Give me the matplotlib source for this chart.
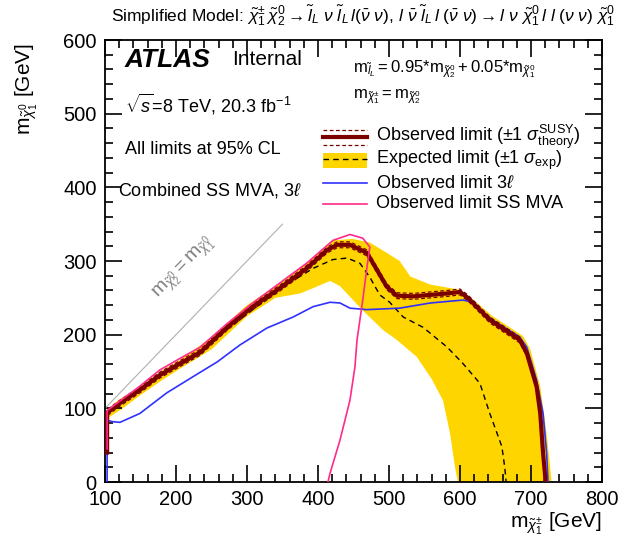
import matplotlib
matplotlib.use('Agg')
from matplotlib import pyplot as plt
from matplotlib.patches import Rectangle
from matplotlib.ticker import MultipleLocator

plt.rcParams['font.family'] = ['Liberation Sans', 'DejaVu Sans']
plt.rcParams['mathtext.fontset'] = 'custom'
plt.rcParams['mathtext.rm'] = 'Liberation Sans'
plt.rcParams['mathtext.it'] = 'Liberation Sans:italic'
plt.rcParams['mathtext.bf'] = 'Liberation Sans:bold'

# exclusion contours in (m_chargino, m_lsp) [GeV]
obs_x = [103, 103, 121, 149, 177, 206, 234, 272, 308, 346, 384, 413, 427, 445,
         469, 483, 497, 511, 534, 582, 600, 611, 642, 684, 694, 708, 713, 717,
         720, 720]
obs_y = [40, 94, 107, 125, 145, 161, 176, 210, 238, 263, 290, 315, 322, 322,
         311, 288, 265, 253, 252, 256, 258, 250, 220, 193, 175, 129, 93, 39,
         7, 0]
obs_up_y = [40, 98, 111, 129, 149, 165, 180, 214, 242, 267, 294, 319, 326, 326,
            315, 292, 269, 257, 256, 260, 262, 254, 224, 197, 179, 133, 97, 43,
            11, 2]
obs_dn_y = [40, 90, 103, 121, 141, 157, 172, 206, 234, 259, 286, 311, 318, 318,
            307, 284, 261, 249, 248, 252, 254, 246, 216, 189, 171, 125, 89, 35,
            3, 0]

exp_x = [103, 103, 121, 149, 177, 206, 234, 272, 308, 356, 393, 421, 441, 459,
         473, 487, 501, 520, 548, 582, 604, 628, 642, 659, 663, 665]
exp_y = [40, 92, 105, 123, 143, 159, 174, 207, 234, 268, 290, 302, 304, 297,
         278, 254, 244, 224, 210, 183, 161, 134, 93, 48, 20, 0]

band_up_x = [101, 101, 120, 150, 178, 206, 248, 300, 356, 400, 421, 449, 473,
             497, 515, 530, 558, 600, 618, 646, 689, 699, 713, 722, 727, 729]
band_up_y = [40, 97, 112, 130, 150, 166, 195, 240, 276, 310, 328, 330, 325,
             311, 300, 279, 268, 261, 248, 225, 198, 180, 130, 66, 20, 0]
band_dn_x = [105, 106, 125, 150, 180, 206, 250, 300, 340, 375, 400, 417, 431,
             463, 492, 511, 539, 560, 576, 586, 593, 597]
band_dn_y = [40, 88, 100, 118, 138, 154, 180, 225, 250, 256, 266, 273, 266,
             233, 206, 193, 170, 140, 111, 66, 20, 0]

lep3_x = [103, 103, 110, 121, 149, 187, 224, 258, 290, 328, 365, 393, 417, 431,
          445, 469, 515, 558, 604, 614, 646, 684, 694, 708, 717, 722, 724]
lep3_y = [0, 84, 82, 81, 93, 121, 143, 163, 186, 209, 224, 238, 244, 243,
          236, 234, 236, 243, 247, 245, 220, 197, 183, 138, 93, 39, 0]

ss_x = [103, 103, 121, 149, 177, 206, 234, 272, 308, 346, 384, 421, 445, 463,
        473, 469, 463, 459, 455, 452, 445, 431, 417, 414]
ss_y = [45, 97, 110, 130, 152, 168, 183, 215, 243, 270, 297, 328, 336, 331,
        319, 292, 247, 220, 193, 156, 111, 57, 12, 0]

diag_x = [100, 350]
diag_y = [100, 350]

fig = plt.figure(figsize=(6.29, 5.48), dpi=100)
ax = fig.add_axes([0.1669, 0.1204, 0.7902, 0.8066])

# expected +-1 sigma band
ax.fill(band_up_x + band_dn_x[::-1], band_up_y + band_dn_y[::-1],
        color='#ffd500', lw=0, zorder=1)
ax.plot(exp_x, exp_y, color='black', lw=1.0, ls=(0, (4, 3)), zorder=3)
ax.plot(diag_x, diag_y, color='#b0b0b0', lw=0.8, zorder=2)
ax.text(212, 290, r'$\mathrm{m}_{\tilde{\chi}^{0}_{2}} = \mathrm{m}_{\tilde{\chi}^{0}_{1}}$',
        color='#808080', fontsize=14, rotation=46, ha='center', va='center')

ax.plot(lep3_x, lep3_y, color='#3030ff', lw=1.2, zorder=4)
ax.plot(obs_x, obs_y, color='#7a0000', lw=3.0, zorder=5)
ax.plot(obs_x, obs_up_y, color='#7a0000', lw=0.9, ls=(0, (3, 2)), zorder=5)
ax.plot(obs_x, obs_dn_y, color='#7a0000', lw=0.9, ls=(0, (3, 2)), zorder=5)
ax.plot(ss_x, ss_y, color='#ff2a8a', lw=1.2, zorder=6)

ax.set_xlim(100, 800)
ax.set_ylim(0, 600)
ax.xaxis.set_major_locator(MultipleLocator(100))
ax.xaxis.set_minor_locator(MultipleLocator(20))
ax.yaxis.set_major_locator(MultipleLocator(100))
ax.yaxis.set_minor_locator(MultipleLocator(20))
ax.tick_params(which='both', direction='in', top=True, right=True,
               labelsize=14.5, width=1.2, pad=6)
ax.tick_params(which='major', length=12)
ax.tick_params(which='minor', length=6)
for sp in ax.spines.values():
    sp.set_linewidth(1.3)

# labels and annotations
fig.text(0.957, 0.044, r'$\mathrm{m}_{\tilde{\chi}^{\pm}_{1}}$ [GeV]', fontsize=15,
         ha='right', va='center')
fig.text(0.043, 0.922, r'$\mathrm{m}_{\tilde{\chi}^{0}_{1}}$ [GeV]', fontsize=15,
         rotation=90, ha='center', va='top')
fig.text(0.578, 0.972,
         r'Simplified Model: $\tilde{\chi}^{\pm}_{1}\,\tilde{\chi}^{0}_{2} \rightarrow '
         r'\tilde{l}_{L}\ \nu\ \tilde{l}_{L}\,l(\bar{\nu}\ \nu),\,l\ \bar{\nu}\ \tilde{l}_{L}\,l\ '
         r'(\bar{\nu}\ \nu) \rightarrow l\ \nu\ \tilde{\chi}^{0}_{1}\,l\ l\ (\nu\ \nu)\ \tilde{\chi}^{0}_{1}$',
         fontsize=12.5, ha='center', va='center')

ax.text(0.04, 0.955, 'ATLAS', transform=ax.transAxes, fontsize=19,
        fontweight='bold', fontstyle='italic', va='center')
ax.text(0.255, 0.955, 'Internal', transform=ax.transAxes, fontsize=15, va='center')
ax.text(0.04, 0.855, r'$\sqrt{s}$=8 TeV, 20.3 fb$^{-1}$', transform=ax.transAxes,
        fontsize=13, va='center')
ax.text(0.04, 0.752, 'All limits at 95% CL', transform=ax.transAxes,
        fontsize=13, va='center')
ax.text(0.026, 0.66, r'Combined SS MVA, 3$\ell$', transform=ax.transAxes,
        fontsize=13, va='center')
ax.text(0.50, 0.935,
        r'$\mathrm{m}_{\tilde{l}_{L}} = 0.95{*}\mathrm{m}_{\tilde{\chi}^{0}_{2}}'
        r' + 0.05{*}\mathrm{m}_{\tilde{\chi}^{0}_{1}}$',
        transform=ax.transAxes, fontsize=12, va='center')
ax.text(0.50, 0.873, r'$\mathrm{m}_{\tilde{\chi}^{\pm}_{1}} = \mathrm{m}_{\tilde{\chi}^{0}_{2}}$',
        transform=ax.transAxes, fontsize=12, va='center')

# legend
hx = [0.439, 0.527]
tx = 0.545
kw = dict(transform=ax.transAxes, clip_on=False)
ax.plot(hx, [0.796, 0.796], color='#7a0000', lw=0.9, ls=(0, (3, 2)), **kw)
ax.plot(hx, [0.781, 0.781], color='#7a0000', lw=3.0, **kw)
ax.plot(hx, [0.762, 0.762], color='#7a0000', lw=0.9, ls=(0, (3, 2)), **kw)
ax.add_patch(Rectangle((hx[0], 0.71), hx[1] - hx[0], 0.034, color='#ffd500',
                       lw=0, transform=ax.transAxes))
ax.plot(hx, [0.730, 0.730], color='black', lw=1.0, ls=(0, (4, 3)), **kw)
ax.plot(hx, [0.676, 0.676], color='#3030ff', lw=1.2, **kw)
ax.plot(hx, [0.629, 0.629], color='#ff2a8a', lw=1.2, **kw)
ax.text(tx, 0.781, r'Observed limit ($\pm$1 $\sigma^{\mathrm{SUSY}}_{\mathrm{theory}}$)',
        transform=ax.transAxes, fontsize=13, va='center')
ax.text(tx, 0.727, r'Expected limit ($\pm$1 $\sigma_{\mathrm{exp}}$)',
        transform=ax.transAxes, fontsize=13, va='center')
ax.text(tx, 0.676, r'Observed limit 3$\ell$', transform=ax.transAxes,
        fontsize=13, va='center')
ax.text(tx, 0.629, 'Observed limit SS MVA', transform=ax.transAxes,
        fontsize=13, va='center')

fig.savefig('out.png', dpi=100)
